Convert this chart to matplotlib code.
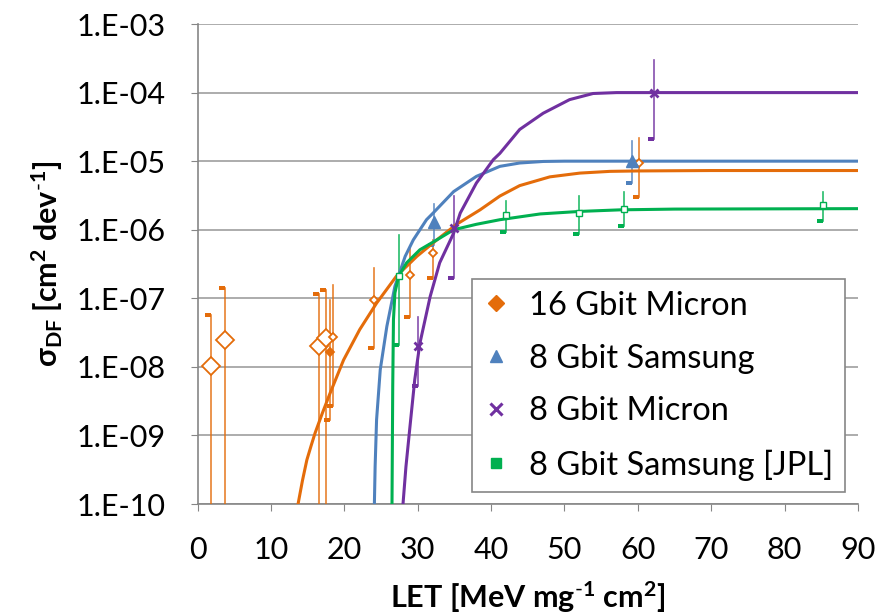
import numpy as np
import matplotlib.pyplot as plt
from matplotlib.lines import Line2D
from matplotlib.path import Path

plt.rcParams['font.family'] = ['Lato', 'DejaVu Sans']
plt.rcParams['mathtext.fontset'] = 'custom'
plt.rcParams['mathtext.rm'] = 'Lato'
plt.rcParams['mathtext.bf'] = 'Lato:bold'
plt.rcParams['mathtext.it'] = 'Lato:italic'

# measured points (LET, cross section, upper and lower error)
mic16_x = [1.8, 3.7, 16.6, 17.5, 18.05, 18.5, 24.0, 29.0, 32.1, 60.1]
mic16_y = [1.03e-8, 2.5e-8, 2.0e-8, 2.6e-8, 1.66e-8, 2.7e-8, 9.5e-8, 2.2e-7, 4.6e-7, 9.4e-6]
mic16_hi = [5.7e-8, 1.4e-7, 1.17e-7, 1.3e-7, 9.5e-8, 1.58e-7, 2.75e-7, 5.7e-7, 7.1e-7, 2.2e-5]
mic16_lo = [1e-11, 1e-11, 1e-11, 1e-11, 1.7e-9, 2.7e-9, 1.87e-8, 5.4e-8, 2.0e-7, 3.0e-6]

sam8_x = [32.2, 59.2]
sam8_y = [1.28e-6, 1.0e-5]
sam8_hi = [2.4e-6, 1.95e-5]
sam8_lo = [6.0e-7, 4.8e-6]

mic8_x = [30.0, 35.0, 62.2]
mic8_y = [2.0e-8, 1.05e-6, 1.0e-4]
mic8_hi = [5.3e-8, 3.1e-6, 3.0e-4]
mic8_lo = [5.2e-9, 2.0e-7, 2.1e-5]

jpl_x = [27.4, 42.0, 52.0, 58.1, 85.2]
jpl_y = [2.15e-7, 1.62e-6, 1.75e-6, 2.03e-6, 2.3e-6]
jpl_hi = [8.5e-7, 2.6e-6, 3.1e-6, 3.6e-6, 3.6e-6]
jpl_lo = [2.05e-8, 9.3e-7, 8.7e-7, 1.15e-6, 1.35e-6]

# fitted curves
fit_mic16_x = [13.7, 14.3, 14.9, 15.5, 16.0, 17.0, 18.05, 19.9, 22.1, 24.4, 27.1, 29.9,
               32.6, 35.3, 38.5, 41.2, 43.9, 48.0, 52.1, 56.2, 60.0, 70.0, 90.0]
fit_mic16_y = [1e-10, 2.2e-10, 4.4e-10, 7.2e-10, 1.07e-9, 2.1e-9, 4.1e-9, 1.26e-8, 3.5e-8,
               8.5e-8, 2.1e-7, 4.1e-7, 7.1e-7, 1.2e-6, 1.95e-6, 3.1e-6, 4.4e-6, 5.9e-6,
               6.7e-6, 7.1e-6, 7.2e-6, 7.3e-6, 7.3e-6]
fit_sam8_x = [24.1, 24.2, 24.4, 24.9, 25.8, 26.9, 28.3, 29.4, 31.2, 32.1, 34.9, 38.0,
              41.2, 43.9, 47.1, 50.0, 90.0]
fit_sam8_y = [1e-10, 3.5e-10, 1.7e-9, 9.1e-9, 3.9e-8, 1.5e-7, 4.1e-7, 7.1e-7, 1.4e-6,
              1.75e-6, 3.6e-6, 6.0e-6, 8.4e-6, 9.4e-6, 9.9e-6, 1.0e-5, 1.0e-5]
fit_mic8_x = [28.0, 28.4, 28.95, 29.6, 30.3, 31.7, 33.0, 34.9, 35.8, 38.0, 40.3, 41.2,
              43.9, 47.1, 50.7, 53.9, 57.1, 90.0]
fit_mic8_y = [1e-10, 3.5e-10, 1.35e-9, 6.5e-9, 2.2e-8, 1.06e-7, 3.3e-7, 8.9e-7, 1.75e-6,
              4.8e-6, 1.05e-5, 1.3e-5, 2.9e-5, 5.0e-5, 7.9e-5, 9.7e-5, 1.0e-4, 1.0e-4]
fit_jpl_x = [26.5, 26.6, 26.7, 26.9, 27.4, 28.5, 30.3, 32.6, 34.9, 38.0, 41.2, 46.7,
             52.1, 57.6, 65.0, 90.0]
fit_jpl_y = [1e-10, 5.2e-9, 4.9e-8, 1.2e-7, 2.1e-7, 3.3e-7, 5.1e-7, 7.1e-7, 1.0e-6,
             1.2e-6, 1.4e-6, 1.7e-6, 1.85e-6, 1.95e-6, 2.0e-6, 2.03e-6]

labels = ['16 Gbit Micron', '8 Gbit Samsung', '8 Gbit Micron', '8 Gbit Samsung [JPL]']
ytick_vals = [1e-10, 1e-9, 1e-8, 1e-7, 1e-6, 1e-5, 1e-4, 1e-3]
ytick_labels = ['1.E-10', '1.E-09', '1.E-08', '1.E-07', '1.E-06', '1.E-05', '1.E-04', '1.E-03']

orange = '#E46C0A'
blue = '#4F81BD'
purple = '#7030A0'
green = '#00B050'
YMIN = 1e-10

# small one-sided cap like the Excel error bar ends
cap = Path([(-1, -0.3), (0, -0.3), (0, 0.3), (-1, 0.3), (-1, -0.3)],
           [Path.MOVETO, Path.LINETO, Path.LINETO, Path.LINETO, Path.CLOSEPOLY])

fig = plt.figure(figsize=(8.81, 6.16), dpi=100)
ax = fig.add_axes([0.2242, 0.1818, 0.7497, 0.7792])


def errbars(x, y, hi, lo, color):
    for xi, h, l in zip(x, hi, lo):
        ax.plot([xi, xi], [l, h], color=color, lw=1.2, alpha=0.85, zorder=3)
        ce = l if l > YMIN else h
        ax.plot([xi], [ce], marker=cap, ms=8, color=color, mew=0, zorder=3)


errbars(mic16_x, mic16_y, mic16_hi, mic16_lo, orange)
errbars(sam8_x, sam8_y, sam8_hi, sam8_lo, blue)
errbars(mic8_x, mic8_y, mic8_hi, mic8_lo, purple)
errbars(jpl_x, jpl_y, jpl_hi, jpl_lo, green)

ax.plot(fit_mic16_x, fit_mic16_y, color=orange, lw=2.2, zorder=4)
ax.plot(fit_sam8_x, fit_sam8_y, color=blue, lw=2.2, zorder=4)
ax.plot(fit_mic8_x, fit_mic8_y, color=purple, lw=2.2, zorder=4)
ax.plot(fit_jpl_x, fit_jpl_y, color=green, lw=2.2, zorder=4)

big = [12, 12, 12, 12, 6, 6, 6, 6, 6, 6]
fill = ['white'] * 4 + [orange] + ['white'] * 5
for xi, yi, s, f in zip(mic16_x, mic16_y, big, fill):
    ax.plot(xi, yi, marker='D', ms=s * 0.75, mfc=f, mec=orange, mew=1.3, ls='none', zorder=5)
ax.plot(sam8_x, sam8_y, marker='^', ms=8, color=blue, ls='none', zorder=5)
ax.plot(mic8_x, mic8_y, marker='x', ms=6, mew=2, color=purple, ls='none', zorder=5)
ax.plot(jpl_x, jpl_y, marker='s', ms=4, mfc='white', mec=green, mew=1, ls='none', zorder=5)

ax.set_yscale('log')
ax.set_xlim(0, 90)
ax.set_ylim(YMIN, 1e-3)
ax.set_xticks(np.arange(0, 91, 10))
ax.set_yticks(ytick_vals)
ax.set_yticklabels(ytick_labels)
ax.tick_params(axis='both', which='major', labelsize=22, color='#868686', length=5,
               direction='out')
ax.tick_params(axis='y', which='major', pad=18)
ax.tick_params(axis='x', which='major', pad=18)
ax.tick_params(axis='y', which='minor', direction='in', length=5, color='#a6a6a6')
ax.yaxis.grid(True, which='major', color='#a6a6a6', lw=1.3)
ax.set_axisbelow(True)
for s in ['top', 'right']:
    ax.spines[s].set_visible(False)
for s in ['left', 'bottom']:
    ax.spines[s].set_color('#868686')
    ax.spines[s].set_linewidth(1.2)

ax.set_xlabel(r'LET [MeV mg$^{\mathbf{\text{-}1}}$ cm$^{\mathbf{2}}$]', fontsize=22,
              fontweight='bold', labelpad=11)
ax.set_ylabel(r'σ$_{\mathbf{DF}}$ [cm$^{\mathbf{2}}$ dev$^{\mathbf{\text{-}1}}$]', fontsize=22,
              fontweight='bold', labelpad=8)

handles = [
    Line2D([], [], marker='D', ms=8, color=orange, ls='none'),
    Line2D([], [], marker='^', ms=9, color=blue, ls='none'),
    Line2D([], [], marker='x', ms=8, mew=2.2, color=purple, ls='none'),
    Line2D([], [], marker='s', ms=7, color=green, ls='none'),
]
leg = ax.legend(handles, labels, loc='lower right', bbox_to_anchor=(0.98, 0.025),
                borderaxespad=0, fontsize=23.5, frameon=True, fancybox=False,
                framealpha=1, edgecolor='#868686', handlelength=0.8, handletextpad=0.6,
                labelspacing=0.7, borderpad=0.35)
leg.get_frame().set_linewidth(1.2)

fig.savefig('out.png', dpi=100)
